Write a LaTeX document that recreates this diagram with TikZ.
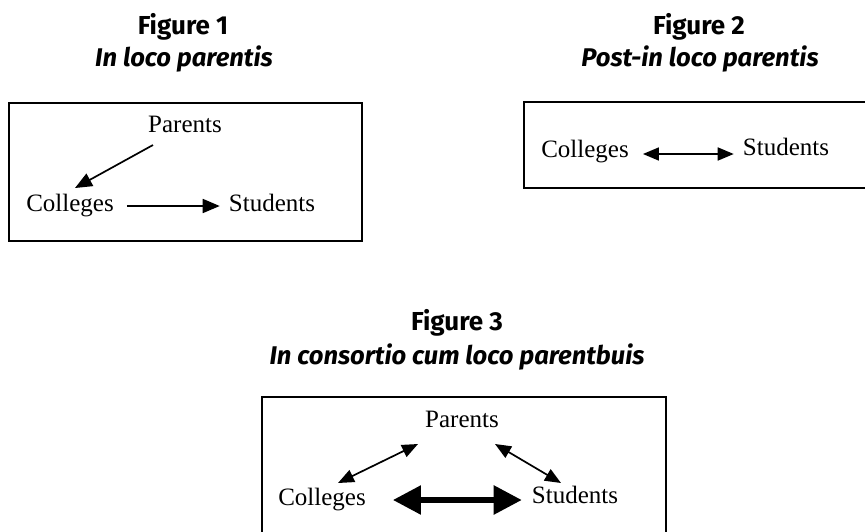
\documentclass[tikz,border=0pt]{standalone}
\usepackage{fontspec}
\setmainfont{Liberation Serif}
\newfontfamily\titlefont{Fira Sans}
\usetikzlibrary{arrows.meta,calc}
\begin{document}
\begin{tikzpicture}[x=1pt,y=-1pt,
  lbl/.style={font=\fontsize{25}{29}\selectfont, inner sep=0pt, text height=16pt, text depth=5pt},
  ttl/.style={font=\titlefont\bfseries\fontsize{26}{30}\selectfont, inner sep=0pt},
  ttli/.style={font=\titlefont\bfseries\itshape\fontsize{25.6}{30}\selectfont, inner sep=0pt},
  frame/.style={draw, line width=1.8pt, inner sep=0pt, outer sep=0pt},
  onearrow/.style={line width=1.7pt, -{Triangle[length=17pt,width=14pt]}},
  twoarrow/.style={line width=1.7pt, {Triangle[length=16pt,width=13pt]}-{Triangle[length=16pt,width=13pt]}},
  bigarrow/.style={line width=5.5pt, {Triangle[length=28pt,width=28pt]}-{Triangle[length=28pt,width=28pt]}}
]
\useasboundingbox (0,0) rectangle (865,531);
\clip (0,0) rectangle (865,531);

% Figure 1
\node[ttl]  (t1) at (183,27) {Figure 1};
\node[ttli] (s1) at (184,59) {In loco parentis};
\node[frame, minimum width=353pt, minimum height=138pt] (box1) at (185.5,172) {};
\node[lbl] (P1) at (185,127) {Parents};
\node[lbl] (C1) at (70,206) {Colleges};
\node[lbl] (S1) at (272,206) {Students};
\draw[onearrow] ($(P1)+(-32,18)$) -- ($(C1)+(5,-18)$);
\draw[onearrow] ($(C1.east)+(13,0)$) -- ($(S1.west)+(-9,0)$);

% Figure 2
\node[ttl]  (t2) at (699,27) {Figure 2};
\node[ttli] (s2) at (700,59) {Post-in loco parentis};
\node[frame, minimum width=356pt, minimum height=86pt] (box2) at (702,145) {};
\node[lbl] (C2) at (585,152) {Colleges};
\node[lbl] (S2) at (786,150) {Students};
\draw[twoarrow] ($(C2.east)+(14,2)$) -- ($(S2.west)+(-9,4)$);

% Figure 3
\node[ttl]  (t3) at (457,323) {Figure 3};
\node[ttli] (s3) at (457,357) {In consortio cum loco parentbuis};
\node[frame, minimum width=404pt, minimum height=137pt] (box3) at (464,465.5) {};
\node[lbl] (P3) at (462,422) {Parents};
\node[lbl] (C3) at (322,500) {Colleges};
\node[lbl] (S3) at (575,498) {Students};
\draw[twoarrow] ($(C3)+(16,-17)$) -- ($(P3)+(-44,22)$);
\draw[twoarrow] ($(P3)+(33,22)$) -- ($(S3)+(-14,-15)$);
\draw[bigarrow] ($(C3.east)+(27,0)$) -- ($(S3.west)+(-10,2)$);
\end{tikzpicture}
\end{document}
